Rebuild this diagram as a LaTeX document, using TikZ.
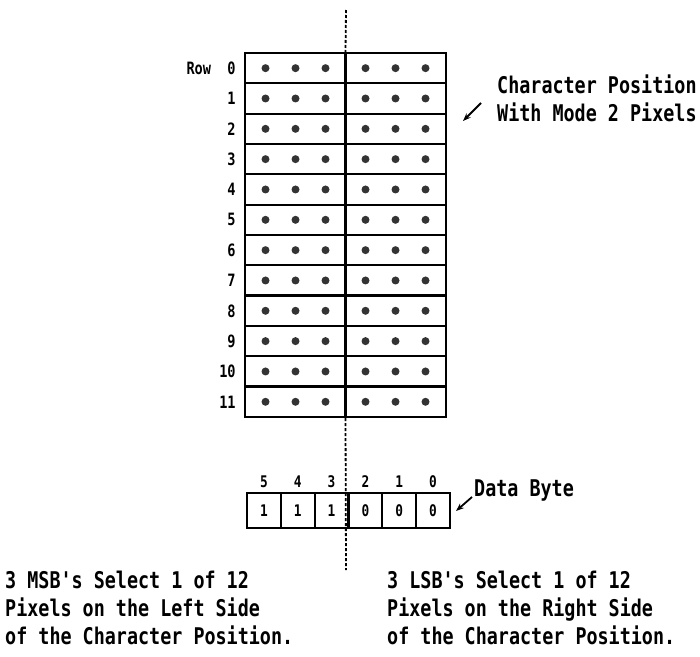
\documentclass[tikz,border=0pt]{standalone}
\usepackage{fontspec}
\newfontfamily\dotfont[FakeStretch=0.8]{DejaVu Sans Mono}
\usetikzlibrary{arrows.meta,positioning}
\tikzset{
  gridline/.style={line width=2.3pt},
  divdash/.style={line width=1.8pt,dash pattern=on 3pt off 2pt},
  rowbox/.style={draw,line width=2.3pt,minimum width=201pt,minimum height=30.33pt,inner sep=0pt},
  pixel/.style={circle,fill=black!80,inner sep=0pt,minimum size=8pt},
  rowlabel/.style={inner sep=1pt,font=\dotfont\bfseries\fontsize{17}{17}\selectfont},
  bitcell/.style={draw,line width=2.2pt,minimum width=33.83pt,minimum height=35pt,inner sep=0pt,font=\dotfont\bfseries\fontsize{16}{16}\selectfont},
  bitnum/.style={inner sep=1pt,font=\dotfont\bfseries\fontsize{16}{16}\selectfont},
  note/.style={inner sep=0pt,align=left,font=\dotfont\bfseries\fontsize{23}{28}\selectfont},
  pointer/.style={line width=1.8pt,-{Stealth[length=8pt,width=6pt]}}
}
\begin{document}
\begin{tikzpicture}[x=1pt,y=-1pt]
  \useasboundingbox (0,0) rectangle (700,656);
  % character position
  \foreach \r in {0,...,11} {
    \node[rowbox] (row\r) at (345.5,{53+30.33*(\r+0.5)}) {};
    \node[rowlabel,left=7pt of row\r] (lab\r) {\r};
    \foreach \dx in {-80,-50,-20,20,50,80}
      \node[pixel] at ([xshift=\dx pt]row\r.center) {};
  }
  \node[rowlabel,left=14pt of lab0] (rowword) {Row};
  \coordinate (top) at (346,10);
  \coordinate (bot) at (346,570);
  \draw[gridline] (row0.north) -- (row11.south);
  \draw[divdash] (top) -- (row0.north);
  \draw[divdash] (row11.south) -- (bot);
  % data byte
  \foreach \n/\v [count=\i from 0] in {5/1,4/1,3/1,2/0,1/0,0/0} {
    \node[bitcell] (bit\n) at ({247+33.83*(\i+0.5)},510.5) {\v};
    \node[bitnum,above=3pt of bit\n] (num\n) {\n};
  }
  \node[note,anchor=west] (cpos) at (497,98) {Character Position\\With Mode 2 Pixels};
  \coordinate (cpostail) at (481,103);
  \coordinate (cpostip) at (463,121);
  \draw[pointer] (cpostail) -- (cpostip);
  \node[note,anchor=west] (dbyte) at (474,490) {Data Byte};
  \coordinate (dtip) at (456,511);
  \draw[pointer] ([shift={(-2pt,-7pt)}]dbyte.west) -- (dtip);
  \node[note,anchor=west] (msb) at (5,608) {3 MSB's Select 1 of 12\\Pixels on the Left Side\\of the Character Position.};
  \node[note,anchor=west] (lsb) at (387,608) {3 LSB's Select 1 of 12\\Pixels on the Right Side\\of the Character Position.};
\end{tikzpicture}
\end{document}
